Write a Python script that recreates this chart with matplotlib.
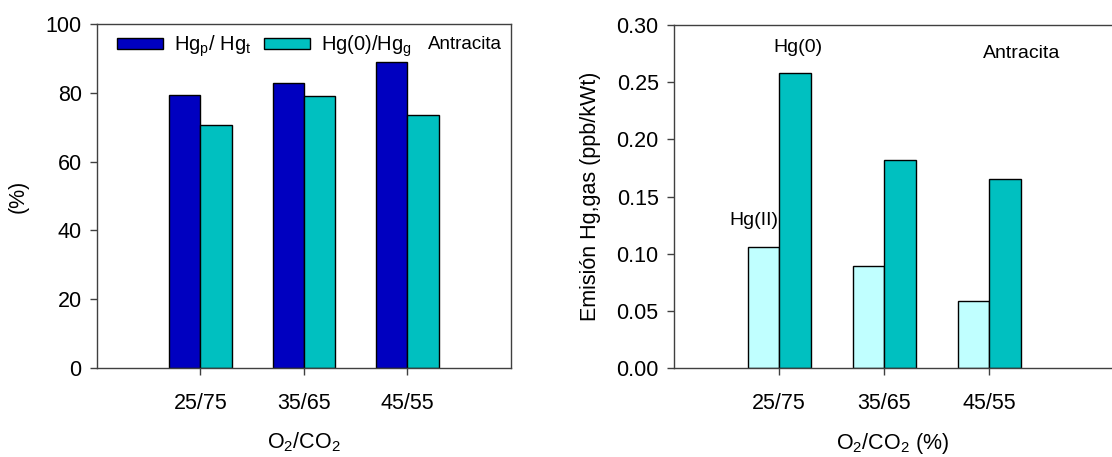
import matplotlib
matplotlib.use("Agg")
import matplotlib.pyplot as plt
import numpy as np

plt.rcParams['font.family'] = ['Liberation Sans', 'DejaVu Sans']
plt.rcParams['mathtext.default'] = 'regular'

# data
ratios = ['25/75', '35/65', '45/55']
hgp_hgt = [79.5, 83.0, 89.0]
hg0_hgg = [70.7, 79.0, 73.5]
emis_hg2 = [0.106, 0.089, 0.059]
emis_hg0 = [0.258, 0.182, 0.165]

dark_blue = '#0000c0'
teal = '#00c0c0'
light_cyan = '#c0ffff'
spine_col = '#404040'

fig = plt.figure(figsize=(11.12, 4.57), dpi=100)
ax1 = fig.add_axes([0.0872, 0.1947, 0.3723, 0.7527])
ax2 = fig.add_axes([0.6061, 0.1947, 0.3939, 0.7505])

x = np.arange(1, len(ratios) + 1)
w = 0.3

def style(ax):
    for s in ax.spines.values():
        s.set_color(spine_col)
        s.set_linewidth(1.0)
    ax.tick_params(direction='out', length=5, width=1, color=spine_col,
                   labelsize=15.5, pad=6)
    ax.set_xticks(x)
    ax.set_xticklabels(ratios)
    ax.tick_params(axis='x', pad=13)

# left panel
ax1.bar(x - w / 2, hgp_hgt, w, color=dark_blue, edgecolor='black', linewidth=1,
        label=r'Hg$_p$/ Hg$_t$')
ax1.bar(x + w / 2, hg0_hgg, w, color=teal, edgecolor='black', linewidth=1,
        label=r'Hg(0)/Hg$_g$')
ax1.set_xlim(0, 4)
ax1.set_ylim(0, 100)
ax1.set_yticks(np.arange(0, 101, 20))
style(ax1)
ax1.set_xlabel(r'O$_2$/CO$_2$', fontsize=15.5, labelpad=12)
ax1.set_ylabel('(%)', fontsize=15.5, labelpad=12)
ax1.legend(loc='upper left', bbox_to_anchor=(0.048, 0.972), ncol=2,
           frameon=False, fontsize=14.5, borderpad=0, borderaxespad=0,
           handlelength=2.3, handleheight=0.45, handletextpad=0.55,
           columnspacing=0.6)
ax1.text(3.56, 94.0, 'Antracita', fontsize=13.5, ha='center', va='center')

# right panel
ax2.bar(x - w / 2, emis_hg2, w, color=light_cyan, edgecolor='black', linewidth=1)
ax2.bar(x + w / 2, emis_hg0, w, color=teal, edgecolor='black', linewidth=1)
ax2.set_xlim(0, 4.17)
ax2.set_ylim(0, 0.30)
ax2.set_yticks(np.arange(0, 0.31, 0.05))
ax2.set_yticklabels([f'{v:.2f}' for v in np.arange(0, 0.31, 0.05)])
style(ax2)
ax2.spines['right'].set_visible(False)
ax2.set_xlabel(r'O$_2$/CO$_2$ (%)', fontsize=15.5, labelpad=12)
ax2.set_ylabel('Emisión Hg,gas (ppb/kWt)', fontsize=15.5, labelpad=11)
ax2.text(1.18, 0.28, 'Hg(0)', fontsize=14, ha='center', va='center')
ax2.text(0.76, 0.129, 'Hg(II)', fontsize=14, ha='center', va='center')
ax2.text(3.31, 0.275, 'Antracita', fontsize=14, ha='center', va='center')

fig.savefig('out.png', dpi=100)
